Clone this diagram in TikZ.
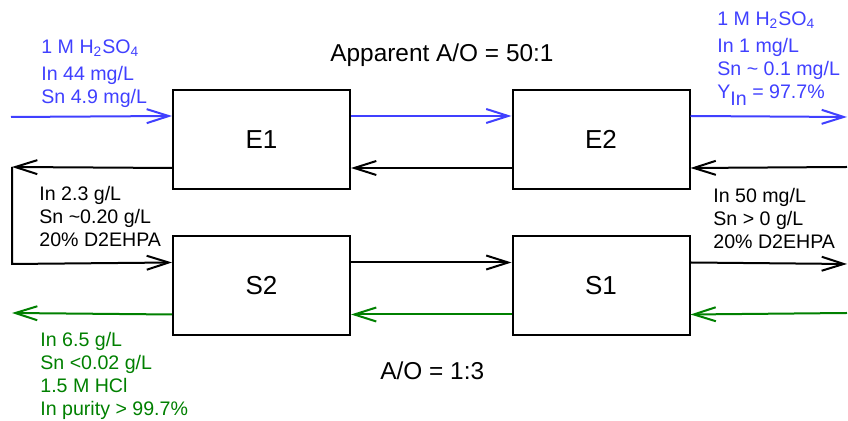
\documentclass[tikz,border=0pt]{standalone}
\usepackage{fontspec}
\setmainfont{Liberation Sans}
\usepackage{xcolor}
\definecolor{azulAcuosa}{RGB}{64,64,255}
\definecolor{verdeStrip}{RGB}{0,128,0}
\usetikzlibrary{arrows.meta,positioning}

\begin{document}
\begin{tikzpicture}[x=0.5pt,y=-0.5pt,font=\fontsize{9.8}{11.5}\selectfont,
    >={Straight Barb[length=11pt,width=7pt]},
    etapa/.style={draw,line width=1pt,minimum width=88.5pt,minimum height=49.5pt,
        inner sep=0pt,font=\fontsize{13}{16}\selectfont},
    flujo/.style={->,line width=1pt},
    dato/.style={anchor=north west,align=left,inner sep=0pt}]

\useasboundingbox (0,0) rectangle (848,421);

% Etapas
\node[etapa] (E1) at (261.5,139.5) {E1};
\node[etapa] (E2) at (601,139.5) {E2};
\node[etapa] (S2) at (261.5,286) {S2};
\node[etapa] (S1) at (601,286) {S1};

% Extremos libres
\coordinate (entA) at (11,117);
\coordinate (salA) at (847,117);
\coordinate (entO) at (847,167);
\coordinate (salO) at (12,167);
\coordinate (vuelta) at (12,264);
\coordinate (salS) at (847,264);
\coordinate (entS) at (847,313);
\coordinate (salSt) at (12,313);

% Fase acuosa
\draw[flujo,azulAcuosa] (entA) -- ([yshift=-13.5pt]E1.north west);
\draw[flujo,azulAcuosa] ([yshift=-13.5pt]E1.north east) -- ([yshift=-13.5pt]E2.north west);
\draw[flujo,azulAcuosa] ([yshift=-13.5pt]E2.north east) -- (salA);

% Fase organica
\draw[flujo] (entO) -- ([yshift=11pt]E2.south east);
\draw[flujo] ([yshift=11pt]E2.south west) -- ([yshift=11pt]E1.south east);
\draw[flujo] ([yshift=11pt]E1.south west) -- (salO);
\draw[flujo] (salO) -- (vuelta) -- ([yshift=-13.5pt]S2.north west);
\draw[flujo] ([yshift=-13.5pt]S2.north east) -- ([yshift=-13.5pt]S1.north west);
\draw[flujo] ([yshift=-13.5pt]S1.north east) -- (salS);

% Stripping
\draw[flujo,verdeStrip] (entS) -- ([yshift=11pt]S1.south east);
\draw[flujo,verdeStrip] ([yshift=11pt]S1.south west) -- ([yshift=11pt]S2.south east);
\draw[flujo,verdeStrip] ([yshift=11pt]S2.south west) -- (salSt);

% Etiquetas
\node[dato,azulAcuosa] (alim) at (41,39)
    {1 M H\textsubscript{2}SO\textsubscript{4}\\[2pt]In 44 mg/L\\Sn 4.9 mg/L};
\node[dato,azulAcuosa] (refino) at (717,11)
    {1 M H\textsubscript{2}SO\textsubscript{4}\\[2pt]In 1 mg/L\\Sn \textasciitilde{} 0.1 mg/L\\[0pt]Y\raisebox{-3.5pt}{In} = 97.7\%};
\node[dato] (cargado) at (39,186)
    {In 2.3 g/L\\Sn \textasciitilde0.20 g/L\\20\% D2EHPA};
\node[dato] (regen) at (713,188)
    {In 50 mg/L\\Sn > 0 g/L\\20\% D2EHPA};
\node[dato,verdeStrip] (licor) at (40,332)
    {In 6.5 g/L\\Sn <0.02 g/L\\1.5 M HCl\\In purity > 99.7\%};

\node[anchor=base west,inner sep=0pt,font=\fontsize{12.2}{14}\selectfont] (razonE) at (330,62)
    {Apparent A/O = 50:1};
\node[anchor=base west,inner sep=0pt,font=\fontsize{12.2}{14}\selectfont] (razonS) at (380,380)
    {A/O = 1:3};

\end{tikzpicture}
\end{document}
